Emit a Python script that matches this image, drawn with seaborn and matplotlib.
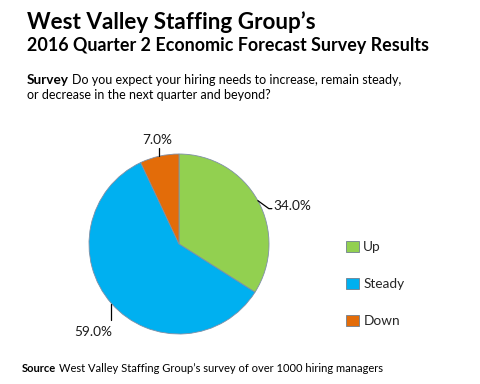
import matplotlib
matplotlib.use("Agg")
import matplotlib.pyplot as plt
import matplotlib.patches as mpatches
import seaborn as sns
import numpy as np

categories = ["Up", "Steady", "Down"]
shares = [34.0, 59.0, 7.0]
colors = ["#92D050", "#00B0F0", "#E36C09"]

title = "West Valley Staffing Group\u2019s"
subtitle = "2016 Quarter 2 Economic Forecast Survey Results"
survey_q = ["Do you expect your hiring needs to increase, remain steady,",
            "or decrease in the next quarter and beyond?"]
source_text = "West Valley Staffing Group\u2019s survey of over 1000 hiring managers"

sns.set_theme(style="white")
plt.rcParams["font.family"] = ["Lato", "DejaVu Sans"]

fig = plt.figure(figsize=(4.8, 3.84), dpi=100)
renderer = fig.canvas.get_renderer()

# header
fig.text(27 / 480, 1 - 22 / 384, title, fontsize=16.2, fontweight="bold",
         va="center", ha="left", color="black")
fig.text(27 / 480, 1 - 45 / 384, subtitle, fontsize=12.9, fontweight="bold",
         va="center", ha="left", color="black")

t = fig.text(27 / 480, 1 - 80 / 384, "Survey", fontsize=9.8, fontweight="bold",
             va="center", ha="left", color="black")
bb = t.get_window_extent(renderer)
fig.text((bb.x1 + 3) / 480, 1 - 80 / 384, survey_q[0], fontsize=9.0,
         va="center", ha="left", color="black")
fig.text(27 / 480, 1 - 95 / 384, survey_q[1], fontsize=9.0,
         va="center", ha="left", color="black")

s = fig.text(22 / 480, 1 - 369 / 384, "Source", fontsize=8.0, fontweight="bold",
             va="center", ha="left", color="black")
bb = s.get_window_extent(renderer)
fig.text((bb.x1 + 3) / 480, 1 - 369 / 384, source_text, fontsize=8.0,
         va="center", ha="left", color="black")

# pie
ax = fig.add_axes([(179 - 90) / 480, (384 - 334) / 384, 180 / 480, 180 / 384])
wedges, _ = ax.pie(shares, colors=colors, startangle=90, counterclock=False,
                   wedgeprops=dict(edgecolor="#7F8FA6", linewidth=0.6))
ax.set_xlim(-1, 1)
ax.set_ylim(-1, 1)
ax.set_aspect("equal")
ax.axis("off")

# data labels with leader lines (offsets in pixels, radius = 90 px)
px = 1 / 90
leaders = [[(11, -8), (14, -8)], [(0, -16)], [(0, 8)]]
text_pos = [((16, -5), "left"), ((1, -28), "right"), ((-2, 16), "center")]
for w, v, lead, (tp, ha) in zip(wedges, shares, leaders, text_pos):
    ang = np.deg2rad((w.theta1 + w.theta2) / 2)
    ex, ey = np.cos(ang), np.sin(ang)
    xs = [ex] + [ex + dx * px for dx, dy in lead]
    ys = [ey] + [ey + dy * px for dx, dy in lead]
    ax.plot(xs, ys, color="black", lw=0.9, clip_on=False)
    ax.text(ex + tp[0] * px, ey + tp[1] * px, f"{v:.1f}%", ha=ha, va="center",
            fontsize=9.8, color="#1a1a1a", clip_on=False)

# legend
handles = [mpatches.Patch(facecolor=c, edgecolor="#6F7F8F", linewidth=0.6, label=l)
           for c, l in zip(colors, categories)]
fig.legend(handles=handles, loc="center left", bbox_to_anchor=(334 / 480, 1 - 284 / 384),
           frameon=False, fontsize=9.8, labelspacing=1.8, handlelength=0.9,
           handleheight=0.9, handletextpad=0.35)

fig.savefig("out.png", dpi=100, facecolor="white")
